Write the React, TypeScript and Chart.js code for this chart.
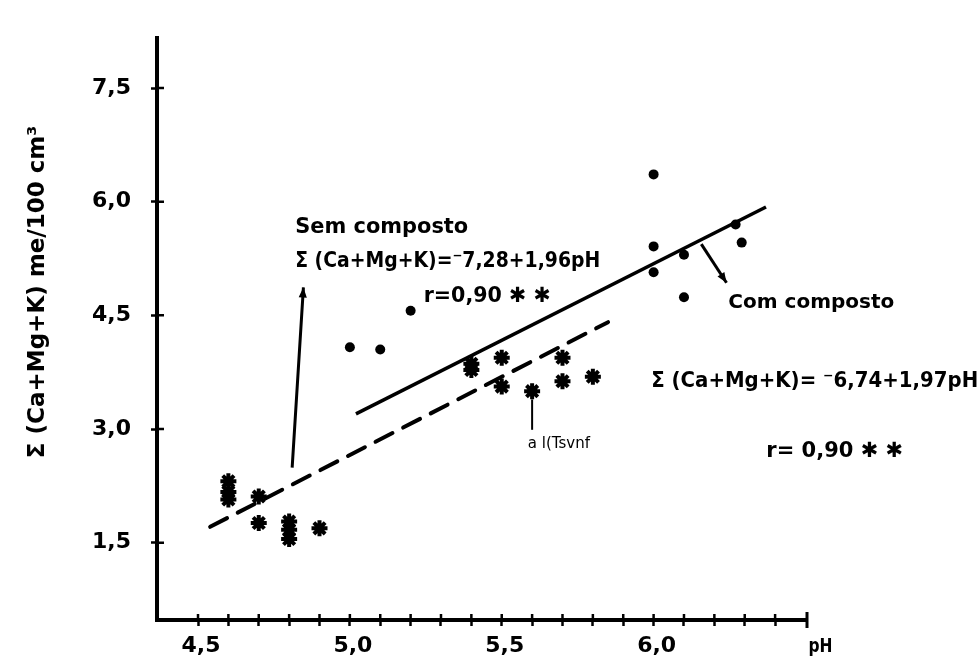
import React, { useEffect, useRef } from 'react';
import { Chart, registerables } from 'chart.js';

Chart.register(...registerables);

const FONT = "'DejaVu Sans', 'Noto Sans', sans-serif";

// "Com composto" observations (dots)
const COM_PH = [5.0, 5.1, 5.2, 6.0, 6.0, 6.0, 6.1, 6.1, 6.27, 6.29];
const COM_SUM = [4.08, 4.05, 4.56, 6.36, 5.41, 5.07, 5.30, 4.74, 5.70, 5.46];

// "Sem composto" observations (asterisks)
const SEM_PH = [4.6, 4.6, 4.6, 4.7, 4.7, 4.8, 4.8, 4.8, 4.9, 5.4, 5.4, 5.5, 5.5, 5.6, 5.7, 5.7, 5.8];
const SEM_SUM = [2.31, 2.17, 2.07, 2.11, 1.76, 1.78, 1.67, 1.55, 1.69, 3.86, 3.78, 3.94, 3.56, 3.50, 3.94, 3.63, 3.69];

// fitted lines (end points)
const COM_FIT_PH = [5.02, 6.37];
const COM_FIT_SUM = [3.2, 5.93];
const SEM_FIT_PH = [4.54, 5.85];
const SEM_FIT_SUM = [1.71, 4.41];

// axes
const X_MIN = 4.365;
const X_MAX = 6.505;
const Y_MIN = 0.48;
const Y_MAX = 8.2;
const X_TICKS = [4.5, 4.6, 4.7, 4.8, 4.9, 5.0, 5.1, 5.2, 5.3, 5.4, 5.5, 5.6, 5.7, 5.8, 5.9, 6.0, 6.1, 6.2, 6.3, 6.4];
const X_TICK_LABELS = ['4,5', '', '', '', '', '5,0', '', '', '', '', '5,5', '', '', '', '', '6,0', '', '', '', ''];
const Y_TICKS = [1.5, 3.0, 4.5, 6.0, 7.5];
const Y_TICK_LABELS = ['1,5', '3,0', '4,5', '6,0', '7,5'];

const Y_TITLE = 'Σ (Ca+Mg+K) me/100 cm³';
const X_TITLE = 'pH';

type Note = { text: string; x: number; y: number; size: number; width?: number; weight?: string; rotate?: boolean };
const NOTES: Note[] = [
  { text: 'Sem composto', x: 4.82, y: 5.66, size: 21, width: 173 },
  { text: 'Σ (Ca+Mg+K)=⁻7,28+1,96pH', x: 4.82, y: 5.21, size: 21, width: 305 },
  { text: 'r=0,90 ✱ ✱', x: 5.243, y: 4.75, size: 21, width: 127 },
  { text: 'Com composto', x: 6.246, y: 4.66, size: 20, width: 173 },
  { text: 'Σ (Ca+Mg+K)= ⁻6,74+1,97pH', x: 5.992, y: 3.63, size: 21, width: 327 },
  { text: 'r= 0,90 ✱ ✱', x: 6.371, y: 2.70, size: 21, width: 148 },
  { text: 'a l(Tsvnf', x: 5.586, y: 2.80, size: 15, width: 72, weight: 'normal' },
  { text: X_TITLE, x: 6.51, y: 0.12, size: 20, width: 24 },
  { text: Y_TITLE, x: 3.973, y: 4.81, size: 23, width: 350, rotate: true },
];

type Arrow = { from: [number, number]; to: [number, number]; head: boolean };
const ARROWS: Arrow[] = [
  { from: [4.81, 2.49], to: [4.847, 4.87], head: true },
  { from: [6.157, 5.44], to: [6.24, 4.93], head: true },
  { from: [5.6, 3.39], to: [5.6, 2.99], head: false },
];

const annotations = {
  id: 'annotations',
  afterDraw(chart: any) {
    const { ctx, chartArea, scales } = chart;
    const xs = scales.x;
    const ys = scales.y;
    ctx.save();
    ctx.strokeStyle = '#000';
    ctx.fillStyle = '#000';
    // inner half of tick marks
    ctx.lineWidth = 2.5;
    ctx.beginPath();
    xs.ticks.forEach((t: any) => {
      const px = xs.getPixelForValue(t.value);
      ctx.moveTo(px, chartArea.bottom);
      ctx.lineTo(px, chartArea.bottom - 6);
    });
    ys.ticks.forEach((t: any) => {
      const py = ys.getPixelForValue(t.value);
      ctx.moveTo(chartArea.left, py);
      ctx.lineTo(chartArea.left + 7, py);
    });
    ctx.stroke();
    // end bar of x axis
    ctx.lineWidth = 3;
    ctx.beginPath();
    ctx.moveTo(chartArea.right, chartArea.bottom - 8);
    ctx.lineTo(chartArea.right, chartArea.bottom + 8);
    ctx.stroke();

    // arrows
    ARROWS.forEach((a) => {
      const x1 = xs.getPixelForValue(a.from[0]);
      const y1 = ys.getPixelForValue(a.from[1]);
      const x2 = xs.getPixelForValue(a.to[0]);
      const y2 = ys.getPixelForValue(a.to[1]);
      ctx.lineWidth = a.head ? 3 : 2;
      ctx.beginPath();
      ctx.moveTo(x1, y1);
      ctx.lineTo(x2, y2);
      ctx.stroke();
      if (a.head) {
        const ang = Math.atan2(y2 - y1, x2 - x1);
        const L = 11;
        const W = 0.38;
        ctx.beginPath();
        ctx.moveTo(x2, y2);
        ctx.lineTo(x2 - L * Math.cos(ang - W), y2 - L * Math.sin(ang - W));
        ctx.lineTo(x2 - L * Math.cos(ang + W), y2 - L * Math.sin(ang + W));
        ctx.closePath();
        ctx.fill();
      }
    });

    // texts
    NOTES.forEach((n) => {
      const px = xs.getPixelForValue(n.x);
      const py = ys.getPixelForValue(n.y);
      ctx.font = `${n.weight || 'bold'} ${n.size}px ${FONT}`;
      ctx.textBaseline = 'middle';
      if (n.rotate) {
        ctx.save();
        ctx.translate(px, py);
        ctx.rotate(-Math.PI / 2);
        ctx.textAlign = 'center';
        ctx.fillText(n.text, 0, 0, n.width);
        ctx.restore();
      } else {
        ctx.textAlign = 'left';
        ctx.fillText(n.text, px, py, n.width);
      }
    });
    ctx.restore();
  },
};

const whiteBg = {
  id: 'whiteBg',
  beforeDraw(chart: any) {
    const { ctx, width, height } = chart;
    ctx.save();
    ctx.fillStyle = '#fff';
    ctx.fillRect(0, 0, width, height);
    ctx.restore();
  },
};

export default function App() {
  const ref = useRef<HTMLCanvasElement | null>(null);

  useEffect(() => {
    document.body.style.margin = '0';
    const canvas = ref.current;
    if (!canvas) return;
    const tickFont = { family: FONT, size: 22, weight: 'bold' as const };
    const chart = new Chart(canvas, {
      type: 'scatter',
      data: {
        datasets: [
          {
            label: 'Com composto',
            data: COM_PH.map((x, i) => ({ x, y: COM_SUM[i] })),
            pointStyle: 'circle',
            pointRadius: 5,
            backgroundColor: '#000',
            borderColor: '#000',
            borderWidth: 0,
          },
          {
            label: 'Sem composto',
            data: SEM_PH.map((x, i) => ({ x, y: SEM_SUM[i] })),
            pointStyle: 'star',
            pointRadius: 8,
            borderColor: '#000',
            backgroundColor: '#000',
            borderWidth: 4,
          },
          {
            label: 'Com composto ajuste',
            data: COM_FIT_PH.map((x, i) => ({ x, y: COM_FIT_SUM[i] })),
            showLine: true,
            pointRadius: 0,
            borderColor: '#000',
            borderWidth: 3.5,
          },
          {
            label: 'Sem composto ajuste',
            data: SEM_FIT_PH.map((x, i) => ({ x, y: SEM_FIT_SUM[i] })),
            showLine: true,
            pointRadius: 0,
            borderColor: '#000',
            borderWidth: 4,
            borderDash: [19, 12],
            borderCapStyle: 'round',
          },
        ],
      },
      options: {
        responsive: false,
        animation: false,
        events: [],
        layout: { padding: { top: 38, right: 173, left: 0, bottom: 0 } },
        plugins: { legend: { display: false }, tooltip: { enabled: false } },
        scales: {
          x: {
            type: 'linear',
            min: X_MIN,
            max: X_MAX,
            afterFit: (s: any) => {
              s.height = 44;
            },
            afterBuildTicks: (s: any) => {
              s.ticks = X_TICKS.map((v) => ({ value: v }));
            },
            ticks: {
              callback: (_v: any, i: number) => X_TICK_LABELS[i],
              font: tickFont,
              color: '#000',
              padding: 7,
              labelOffset: 3,
              autoSkip: false,
              maxRotation: 0,
              minRotation: 0,
            },
            grid: { drawOnChartArea: false, drawTicks: true, tickLength: 6, tickWidth: 2.5, tickColor: '#000', color: '#000' },
            border: { display: true, color: '#000', width: 4 },
          },
          y: {
            type: 'linear',
            min: Y_MIN,
            max: 8.16,
            afterFit: (s: any) => {
              s.width = 157;
            },
            afterBuildTicks: (s: any) => {
              s.ticks = Y_TICKS.map((v) => ({ value: v }));
            },
            ticks: {
              callback: (_v: any, i: number) => Y_TICK_LABELS[i],
              font: tickFont,
              color: '#000',
              padding: 20,
              autoSkip: false,
            },
            grid: { drawOnChartArea: false, drawTicks: true, tickLength: 6, tickWidth: 2.5, tickColor: '#000', color: '#000' },
            border: { display: true, color: '#000', width: 4 },
          },
        },
      },
      plugins: [whiteBg, annotations],
    });
    return () => chart.destroy();
  }, []);

  return (
    <div style={{ width: 980, height: 664 }}>
      <canvas ref={ref} width={980} height={664} style={{ display: 'block', width: 980, height: 664 }} />
    </div>
  );
}
